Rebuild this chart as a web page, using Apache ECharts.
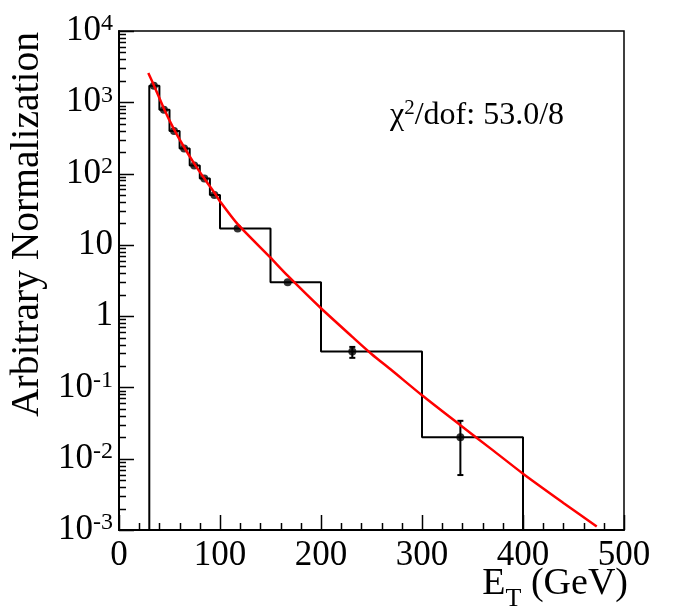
<!DOCTYPE html>
<html>
<head>
<meta charset="utf-8">
<script src="https://cdn.jsdelivr.net/npm/echarts@6/dist/echarts.min.js"></script>
<style>html,body{margin:0;padding:0;background:#fff}#c{width:680px;height:610px}</style>
</head>
<body>
<div id="c"></div>
<script>
// Histogram bins (GeV) and contents
const binEdges = [30, 40, 50, 60, 70, 80, 90, 100, 150, 200, 300, 400];
const binCounts = [1710, 785, 395, 225, 130, 85, 50, 17, 2.98, 0.32, 0.020];
// Data points with error bars
const pointX = [34.5, 44.5, 54.5, 64.5, 74.5, 84.5, 94.5, 117.5, 167, 231, 338];
const pointY = [1710, 785, 395, 225, 130, 85, 50, 17, 2.98, 0.32, 0.020];
const errLow = [1660, 760, 380, 216, 124, 81, 47, 16.2, 2.75, 0.26, 0.0059];
const errHigh = [1760, 810, 410, 234, 136, 89, 53, 17.8, 3.2, 0.37, 0.034];
// Fit curve
const fitX = [29, 34.5, 44.5, 54.5, 64.5, 74.5, 84.5, 94.5, 100, 117.5, 150, 167, 200, 231, 250, 270, 300, 338, 370, 400, 440, 473];
const fitY = [2570, 1738, 813, 417, 234, 138, 85.1, 53.7, 40.7, 19.5, 6.6, 3.7, 1.29, 0.513, 0.295, 0.174, 0.0776, 0.0295, 0.0132, 0.00617, 0.0024, 0.00112];
// Axis ticks
const xTickValues = [0, 100, 200, 300, 400, 500];
const xTickLabels = ['0', '100', '200', '300', '400', '500'];
const xMinorStep = 20;
const yTickExponents = [-3, -2, -1, 0, 1, 2, 3, 4];
const yTickLabels = ['{b|10}{s|-3}', '{b|10}{s|-2}', '{b|10}{s|-1}', '{b|1}', '{b|10}', '{b|10}{s|2}', '{b|10}{s|3}', '{b|10}{s|4}'];
const minorMantissas = [2, 3, 4, 5, 6, 7, 8, 9];
const chi2 = '53.0';
const ndf = '8';

const FONT = 'Liberation Serif';
const yMin = 0.001, yMax = 10000;
const snap = v => Math.round(v) + 0.5;

const histLine = [];
histLine.push([binEdges[0], yMin]);
for (let i = 0; i < binCounts.length; i++) {
  histLine.push([binEdges[i], binCounts[i]]);
  histLine.push([binEdges[i + 1], binCounts[i]]);
}
histLine.push([binEdges[binEdges.length - 1], yMin]);

// tick positions in data space: [x, y, length]
const yTicks = [];
for (let e = yTickExponents[0]; e < yTickExponents[yTickExponents.length - 1]; e++) {
  minorMantissas.forEach(m => yTicks.push([0, m * Math.pow(10, e), 7]));
}
yTickExponents.forEach(e => yTicks.push([0, Math.pow(10, e), 15]));
const xTicks = [];
for (let v = xTickValues[0]; v <= xTickValues[xTickValues.length - 1]; v += xMinorStep) {
  xTicks.push([v, yMin, xTickValues.indexOf(v) >= 0 ? 15 : 7]);
}

const chart = echarts.init(document.getElementById('c'), null, {renderer: 'canvas'});
chart.setOption({
  animation: false,
  backgroundColor: '#fff',
  grid: {left: 119, right: 56, top: 31, bottom: 80, show: true, borderColor: '#000', borderWidth: 1.5, containLabel: false, outerBoundsMode: 'none'},
  xAxis: {
    type: 'value', min: 0, max: 500, interval: 100,
    axisLine: {show: true, onZero: false, lineStyle: {color: '#000', width: 2}},
    axisTick: {show: false},
    minorTick: {show: false},
    splitLine: {show: false},
    axisLabel: {margin: 8, fontFamily: FONT, fontSize: 35, color: '#000',
      formatter: v => xTickLabels[xTickValues.indexOf(v)]},
    name: '{e|E}{t|T}{e| (GeV)}', nameLocation: 'end', nameGap: 4, nameMoveOverlap: false,
    nameTextStyle: {align: 'right', verticalAlign: 'top', padding: [34, 0, 0, 0],
      rich: {e: {fontFamily: FONT, fontSize: 38, color: '#000', lineHeight: 40},
             t: {fontFamily: FONT, fontSize: 26, color: '#000', verticalAlign: 'bottom', lineHeight: 26, padding: [0, 0, -8, 0]}}}
  },
  yAxis: {
    type: 'log', logBase: 10, min: yMin, max: yMax,
    axisLine: {show: true, lineStyle: {color: '#000', width: 2}},
    axisTick: {show: false},
    minorTick: {show: false},
    splitLine: {show: false},
    axisLabel: {margin: 6, color: '#000',
      formatter: v => yTickLabels[yTickExponents.indexOf(Math.round(Math.log10(v)))] || '',
      rich: {b: {fontFamily: FONT, fontSize: 35, color: '#000', lineHeight: 38},
             s: {fontFamily: FONT, fontSize: 24, color: '#000', verticalAlign: 'top', lineHeight: 18}}},
    name: 'Arbitrary Normalization', nameLocation: 'middle', nameGap: 71, nameRotate: 90, nameMoveOverlap: false,
    nameTextStyle: {fontFamily: FONT, fontSize: 39.5, color: '#000', padding: [0, 0, 0, 112]}
  },
  series: [
    {
      name: 'hist', type: 'line', data: histLine, showSymbol: false, symbol: 'none', z: 2,
      lineStyle: {color: '#000', width: 2}
    },
    {
      name: 'err', type: 'custom', z: 3,
      data: pointX.map((x, i) => [x, errLow[i], errHigh[i], pointY[i]]),
      encode: {x: 0, y: [1, 2]},
      renderItem: (params, api) => {
        const x = api.value(0);
        const pLo = api.coord([x, api.value(1)]);
        const pHi = api.coord([x, api.value(2)]);
        const pC = api.coord([x, api.value(3)]);
        const children = [];
        const r = 4;
        if (pLo[1] - pC[1] > r) {
          children.push({type: 'line', shape: {x1: pC[0], y1: pC[1], x2: pLo[0], y2: pLo[1]}, style: {stroke: '#000', lineWidth: 2}});
          children.push({type: 'line', shape: {x1: pLo[0] - 3, y1: pLo[1], x2: pLo[0] + 3, y2: pLo[1]}, style: {stroke: '#000', lineWidth: 2}});
        }
        if (pC[1] - pHi[1] > r) {
          children.push({type: 'line', shape: {x1: pC[0], y1: pC[1], x2: pHi[0], y2: pHi[1]}, style: {stroke: '#000', lineWidth: 2}});
          children.push({type: 'line', shape: {x1: pHi[0] - 3, y1: pHi[1], x2: pHi[0] + 3, y2: pHi[1]}, style: {stroke: '#000', lineWidth: 2}});
        }
        return {type: 'group', children};
      }
    },
    {
      name: 'points', type: 'scatter', z: 4,
      data: pointX.map((x, i) => [x, pointY[i]]),
      symbol: 'circle', symbolSize: 8, itemStyle: {color: '#000'}
    },
    {
      name: 'fit', type: 'line', z: 5,
      data: fitX.map((x, i) => [x, fitY[i]]),
      smooth: 0.25, showSymbol: false, symbol: 'none',
      lineStyle: {color: '#ff0000', width: 2.5}
    }
  ]
});

// Tick marks placed through the chart's own axis scales
const tickEls = [];
yTicks.forEach(t => {
  const p = chart.convertToPixel({gridIndex: 0}, [t[0], t[1]]);
  const y = snap(p[1]);
  tickEls.push({type: 'line', z: 50, silent: true,
    shape: {x1: p[0], y1: y, x2: p[0] + t[2], y2: y}, style: {stroke: '#000', lineWidth: 1.5}});
});
xTicks.forEach(t => {
  const p = chart.convertToPixel({gridIndex: 0}, [t[0], t[1]]);
  const x = snap(p[0]);
  tickEls.push({type: 'line', z: 50, silent: true,
    shape: {x1: x, y1: p[1], x2: x, y2: p[1] - t[2]}, style: {stroke: '#000', lineWidth: 1.5}});
});
tickEls.push({
  type: 'text', left: 390, top: 98, z: 100,
  style: {
    text: '{a|χ}{s|2}{a|/dof: ' + chi2 + '/' + ndf + '}',
    rich: {a: {fontFamily: FONT, fontSize: 32, fill: '#000', lineHeight: 36},
           s: {fontFamily: FONT, fontSize: 21, fill: '#000', verticalAlign: 'top', lineHeight: 18}}
  }
});
chart.setOption({graphic: tickEls});
</script>
</body>
</html>
